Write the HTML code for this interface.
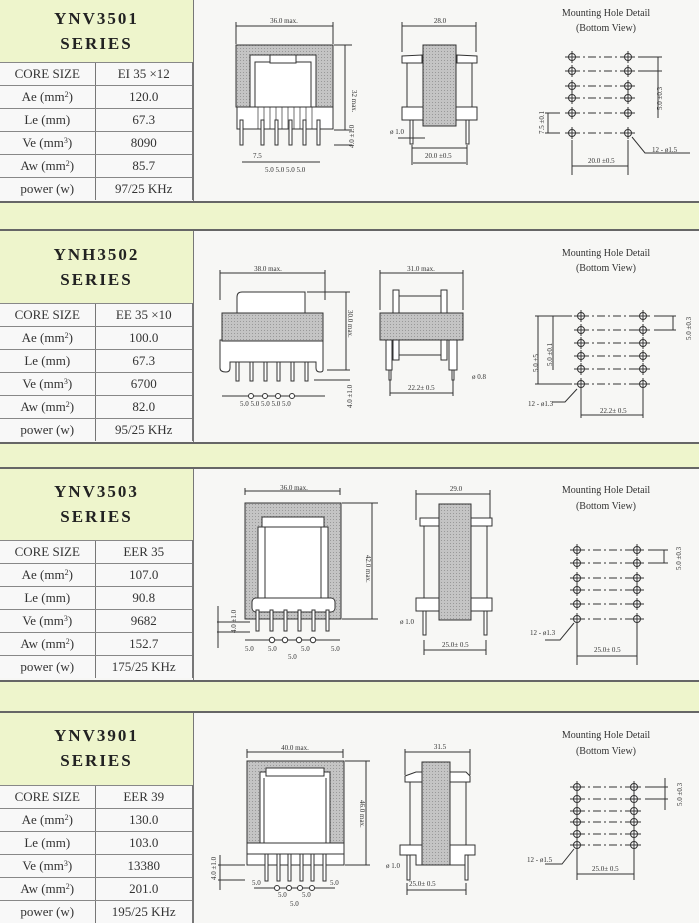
<!DOCTYPE html>
<html><head><meta charset="utf-8"><style>
*{margin:0;padding:0;box-sizing:border-box}
body{width:699px;height:923px;overflow:hidden;background:#f7f7f5;position:relative;font-family:"Liberation Serif",serif;color:#333}
.band{position:absolute;left:0;width:699px;background:#eef5cc;border-top:2px solid #666;border-bottom:2px solid #666}
.title{position:absolute;left:0;width:193px;background:#eef5cc;text-align:center;font-weight:bold;font-size:17px;letter-spacing:2px;color:#222;line-height:25px}
.tbl{position:absolute;left:0;width:193px;border-right:1px solid #777}
.row{height:23px;border-top:1px solid #888;display:flex;font-size:13px;line-height:22px;background:#f8f8f8}
.row div{text-align:center}
.row .a{width:96px;border-right:1px solid #777}
.row .b{width:97px}
.vl{position:absolute;left:193px;width:1px;background:#777}
svg{position:absolute;left:0;top:0}
sup{font-size:8px;vertical-align:4px;line-height:0}
</style></head><body>

<!-- bands -->
<div class="band" style="top:201px;height:30px"></div>
<div class="band" style="top:442px;height:27px"></div>
<div class="band" style="top:680px;height:33px"></div>

<div class="vl" style="top:0;height:201px"></div>
<div class="vl" style="top:231px;height:211px"></div>
<div class="vl" style="top:469px;height:211px"></div>
<div class="vl" style="top:713px;height:210px"></div>

<!-- S1 -->
<div class="title" style="top:0;height:62px;padding-top:6px">YNV3501<br>SERIES</div>
<div class="tbl" style="top:62px">
<div class="row"><div class="a">CORE SIZE</div><div class="b">EI 35 ×12</div></div>
<div class="row"><div class="a">Ae (mm<sup>2</sup>)</div><div class="b">120.0</div></div>
<div class="row"><div class="a">Le (mm)</div><div class="b">67.3</div></div>
<div class="row"><div class="a">Ve (mm<sup>3</sup>)</div><div class="b">8090</div></div>
<div class="row"><div class="a">Aw (mm<sup>2</sup>)</div><div class="b">85.7</div></div>
<div class="row"><div class="a">power (w)</div><div class="b">97/25 KHz</div></div>
</div>
<!-- S2 -->
<div class="title" style="top:231px;height:72px;padding-top:11px">YNH3502<br>SERIES</div>
<div class="tbl" style="top:303px">
<div class="row"><div class="a">CORE SIZE</div><div class="b">EE 35 ×10</div></div>
<div class="row"><div class="a">Ae (mm<sup>2</sup>)</div><div class="b">100.0</div></div>
<div class="row"><div class="a">Le (mm)</div><div class="b">67.3</div></div>
<div class="row"><div class="a">Ve (mm<sup>3</sup>)</div><div class="b">6700</div></div>
<div class="row"><div class="a">Aw (mm<sup>2</sup>)</div><div class="b">82.0</div></div>
<div class="row"><div class="a">power (w)</div><div class="b">95/25 KHz</div></div>
</div>
<!-- S3 -->
<div class="title" style="top:469px;height:71px;padding-top:10px">YNV3503<br>SERIES</div>
<div class="tbl" style="top:540px">
<div class="row"><div class="a">CORE SIZE</div><div class="b">EER 35</div></div>
<div class="row"><div class="a">Ae (mm<sup>2</sup>)</div><div class="b">107.0</div></div>
<div class="row"><div class="a">Le (mm)</div><div class="b">90.8</div></div>
<div class="row"><div class="a">Ve (mm<sup>3</sup>)</div><div class="b">9682</div></div>
<div class="row"><div class="a">Aw (mm<sup>2</sup>)</div><div class="b">152.7</div></div>
<div class="row"><div class="a">power (w)</div><div class="b">175/25 KHz</div></div>
</div>
<!-- S4 -->
<div class="title" style="top:713px;height:72px;padding-top:10px">YNV3901<br>SERIES</div>
<div class="tbl" style="top:785px">
<div class="row"><div class="a">CORE SIZE</div><div class="b">EER 39</div></div>
<div class="row"><div class="a">Ae (mm<sup>2</sup>)</div><div class="b">130.0</div></div>
<div class="row"><div class="a">Le (mm)</div><div class="b">103.0</div></div>
<div class="row"><div class="a">Ve (mm<sup>3</sup>)</div><div class="b">13380</div></div>
<div class="row"><div class="a">Aw (mm<sup>2</sup>)</div><div class="b">201.0</div></div>
<div class="row"><div class="a">power (w)</div><div class="b">195/25 KHz</div></div>
</div>

<svg width="699" height="923" viewBox="0 0 699 923" font-family="Liberation Serif, serif" fill="none" stroke="#333" stroke-width="1">
<defs>
<pattern id="h" width="3" height="3" patternUnits="userSpaceOnUse"><rect width="3" height="3" fill="#c4c4c4" stroke="none"/><rect width="1" height="1" fill="#999" stroke="none"/></pattern>
<g id="hole"><circle r="3.5" fill="#fff"/><line x1="-7" y1="0" x2="7" y2="0"/><line x1="0" y1="-6" x2="0" y2="6"/></g>
</defs>
<g font-size="7" fill="#333" stroke="none">
<!-- section 1 text -->
<text x="284" y="23" text-anchor="middle">36.0 max.</text>
<text x="440" y="23" text-anchor="middle">28.0</text>
<text x="606" y="16" text-anchor="middle" font-size="10">Mounting Hole Detail</text>
<text x="606" y="31" text-anchor="middle" font-size="10">(Bottom View)</text>
<text x="253" y="158">7.5</text>
<text x="265" y="172">5.0  5.0  5.0  5.0</text>
<text x="390" y="134">ø 1.0</text>
<text x="425" y="158">20.0 ±0.5</text>
<text x="588" y="163">20.0 ±0.5</text>
<text x="652" y="152">12 - ø1.5</text>
<text transform="translate(352,90) rotate(90)">32 max.</text>
<text transform="translate(354,148) rotate(-90)">4.0 ±1.0</text>
<text transform="translate(662,110) rotate(-90)">5.0 ±0.3</text>
<text transform="translate(544,134) rotate(-90)">7.5 ±0.1</text>
<!-- section 2 -->
<text x="268" y="271" text-anchor="middle">38.0 max.</text>
<text x="421" y="271" text-anchor="middle">31.0 max.</text>
<text x="606" y="256" text-anchor="middle" font-size="10">Mounting Hole Detail</text>
<text x="606" y="271" text-anchor="middle" font-size="10">(Bottom View)</text>
<text x="240" y="406">5.0  5.0  5.0  5.0  5.0</text>
<text x="408" y="390">22.2± 0.5</text>
<text x="472" y="379">ø 0.8</text>
<text x="528" y="406">12 - ø1.3</text>
<text x="600" y="413">22.2± 0.5</text>
<text transform="translate(348,310) rotate(90)">30.0 max.</text>
<text transform="translate(352,408) rotate(-90)">4.0 ±1.0</text>
<text transform="translate(691,340) rotate(-90)">5.0 ±0.3</text>
<text transform="translate(538,372) rotate(-90)">5.0 ±5</text>
<text transform="translate(552,366) rotate(-90)">5.0 ±0.1</text>
<!-- section 3 -->
<text x="294" y="490" text-anchor="middle">36.0 max.</text>
<text x="456" y="491" text-anchor="middle">29.0</text>
<text x="606" y="493" text-anchor="middle" font-size="10">Mounting Hole Detail</text>
<text x="606" y="509" text-anchor="middle" font-size="10">(Bottom View)</text>
<text x="245" y="651">5.0</text><text x="268" y="651">5.0</text><text x="301" y="651">5.0</text><text x="331" y="651">5.0</text><text x="288" y="659">5.0</text>
<text x="400" y="624">ø 1.0</text>
<text x="442" y="647">25.0± 0.5</text>
<text x="530" y="635">12 - ø1.3</text>
<text x="594" y="652">25.0± 0.5</text>
<text transform="translate(366,555) rotate(90)">42.0 max.</text>
<text transform="translate(236,633) rotate(-90)">4.0 ±1.0</text>
<text transform="translate(681,570) rotate(-90)">5.0 ±0.3</text>
<!-- section 4 -->
<text x="295" y="750" text-anchor="middle">40.0 max.</text>
<text x="440" y="749" text-anchor="middle">31.5</text>
<text x="606" y="738" text-anchor="middle" font-size="10">Mounting Hole Detail</text>
<text x="606" y="754" text-anchor="middle" font-size="10">(Bottom View)</text>
<text x="252" y="885">5.0</text><text x="330" y="885">5.0</text><text x="278" y="897">5.0</text><text x="302" y="897">5.0</text><text x="290" y="906">5.0</text>
<text x="386" y="868">ø 1.0</text>
<text x="409" y="886">25.0± 0.5</text>
<text x="527" y="862">12 - ø1.5</text>
<text x="592" y="871">25.0± 0.5</text>
<text transform="translate(360,800) rotate(90)">46.0 max.</text>
<text transform="translate(216,880) rotate(-90)">4.0 ±1.0</text>
<text transform="translate(682,806) rotate(-90)">5.0 ±0.3</text>
</g>

<!-- ===== Section 1 drawings ===== -->
<line x1="236" y1="26" x2="333" y2="26"/><line x1="236" y1="22" x2="236" y2="44"/><line x1="333" y1="22" x2="333" y2="44"/>
<rect x="236" y="45" width="97" height="62" fill="url(#h)"/>
<rect x="250" y="55" width="66" height="52" fill="#fafafa"/>
<rect x="255" y="62" width="56" height="45" fill="#fff"/>
<rect x="270" y="55" width="26" height="8" fill="#fff"/>
<rect x="237" y="107" width="96" height="22" fill="#fff"/>
<g stroke-width="0.7"><line x1="258" y1="107" x2="258" y2="129"/><line x1="264" y1="107" x2="264" y2="129"/><line x1="270" y1="107" x2="270" y2="129"/><line x1="276" y1="107" x2="276" y2="129"/><line x1="282" y1="107" x2="282" y2="129"/><line x1="288" y1="107" x2="288" y2="129"/><line x1="294" y1="107" x2="294" y2="129"/><line x1="300" y1="107" x2="300" y2="129"/><line x1="306" y1="107" x2="306" y2="129"/><line x1="312" y1="107" x2="312" y2="129"/></g>
<g fill="#fff"><rect x="240" y="120" width="3" height="25"/><rect x="261" y="120" width="3" height="25"/><rect x="275" y="120" width="3" height="25"/><rect x="289" y="120" width="3" height="25"/><rect x="303" y="120" width="3" height="25"/><rect x="317" y="120" width="3" height="25"/></g>
<line x1="242" y1="162" x2="320" y2="162"/>
<line x1="334" y1="45" x2="352" y2="45"/><line x1="334" y1="130" x2="352" y2="130"/><line x1="345" y1="45" x2="345" y2="130"/>
<line x1="334" y1="145" x2="352" y2="145"/>
<!-- side -->
<line x1="402" y1="26" x2="476" y2="26"/><line x1="402" y1="22" x2="402" y2="52"/><line x1="476" y1="22" x2="476" y2="52"/>
<path d="M402 56 L422 55 L422 63 L402 63 Z M457 55 L477 56 L477 63 L457 63 Z" fill="#fff"/>
<line x1="407" y1="63" x2="407" y2="107"/><line x1="472" y1="63" x2="472" y2="107"/>
<rect x="402" y="107" width="75" height="13" fill="#fff"/>
<rect x="423" y="45" width="33" height="81" fill="url(#h)"/>
<rect x="410" y="120" width="3" height="24" fill="#fff"/><rect x="466" y="120" width="3" height="24" fill="#fff"/>
<line x1="412" y1="148" x2="467" y2="148"/><line x1="412" y1="145" x2="412" y2="165"/><line x1="467" y1="145" x2="467" y2="165"/><line x1="413" y1="163" x2="466" y2="163"/>
<line x1="398" y1="138" x2="425" y2="138"/>
<!-- mounting 1 -->
<g stroke-dasharray="8 3 2 3"><line x1="572" y1="57" x2="628" y2="57"/><line x1="572" y1="71" x2="628" y2="71"/><line x1="572" y1="86" x2="628" y2="86"/><line x1="572" y1="98" x2="628" y2="98"/><line x1="572" y1="113" x2="628" y2="113"/><line x1="572" y1="133" x2="628" y2="133"/></g>
<use href="#hole" x="572" y="57"/><use href="#hole" x="628" y="57"/><use href="#hole" x="572" y="71"/><use href="#hole" x="628" y="71"/><use href="#hole" x="572" y="86"/><use href="#hole" x="628" y="86"/><use href="#hole" x="572" y="98"/><use href="#hole" x="628" y="98"/><use href="#hole" x="572" y="113"/><use href="#hole" x="628" y="113"/><use href="#hole" x="572" y="133"/><use href="#hole" x="628" y="133"/>
<line x1="638" y1="57" x2="662" y2="57"/><line x1="638" y1="71" x2="662" y2="71"/><line x1="658" y1="57" x2="658" y2="118"/>
<line x1="545" y1="113" x2="560" y2="113"/><line x1="545" y1="133" x2="560" y2="133"/><line x1="548" y1="113" x2="548" y2="133"/>
<line x1="572" y1="140" x2="572" y2="175"/><line x1="628" y1="140" x2="628" y2="175"/><line x1="572" y1="166" x2="628" y2="166"/>
<path d="M632 137 L645 153 L690 153"/>

<!-- ===== Section 2 drawings ===== -->
<line x1="220" y1="273" x2="325" y2="273"/><line x1="220" y1="270" x2="220" y2="300"/><line x1="325" y1="270" x2="325" y2="300"/>
<path d="M237 313 L237 297 Q237 292 242 292 L305 292 L305 313" fill="#fff"/>
<path d="M220 340 L323 340 L323 370 Q323 372 320 372 Q316 372 316 368 L316 362 L230 362 L230 368 Q230 372 226 372 Q220 372 220 368 Z" fill="#fff"/>
<rect x="222" y="313" width="101" height="28" fill="url(#h)"/>
<g fill="#fff"><rect x="236" y="362" width="3" height="19"/><rect x="250" y="362" width="3" height="19"/><rect x="264" y="362" width="3" height="19"/><rect x="277" y="362" width="3" height="19"/><rect x="291" y="362" width="3" height="19"/><rect x="305" y="362" width="3" height="19"/></g>
<line x1="222" y1="396" x2="325" y2="396"/>
<g fill="#fff"><circle cx="251" cy="396" r="2.5"/><circle cx="265" cy="396" r="2.5"/><circle cx="278" cy="396" r="2.5"/><circle cx="292" cy="396" r="2.5"/></g>
<line x1="307" y1="292" x2="350" y2="292"/><line x1="327" y1="370" x2="350" y2="370"/><line x1="346" y1="292" x2="346" y2="370"/>
<line x1="314" y1="380" x2="350" y2="380"/>
<!-- side 2 -->
<line x1="380" y1="273" x2="463" y2="273"/><line x1="380" y1="270" x2="380" y2="310"/><line x1="463" y1="270" x2="463" y2="310"/>
<rect x="393" y="290" width="6" height="70" fill="#fff"/><rect x="441" y="290" width="6" height="70" fill="#fff"/>
<line x1="399" y1="296" x2="441" y2="296"/><line x1="399" y1="355" x2="441" y2="355"/>
<rect x="380" y="313" width="83" height="27" fill="url(#h)"/>
<rect x="386" y="340" width="6" height="30" fill="#fff"/><rect x="449" y="340" width="8" height="30" fill="#fff"/>
<rect x="389" y="370" width="2" height="10" fill="#fff"/><rect x="452" y="370" width="2" height="10" fill="#fff"/>
<line x1="390" y1="380" x2="390" y2="396"/><line x1="453" y1="380" x2="453" y2="396"/><line x1="390" y1="393" x2="453" y2="393"/>
<!-- mounting 2 -->
<g stroke-dasharray="8 3 2 3"><line x1="581" y1="316" x2="643" y2="316"/><line x1="581" y1="330" x2="643" y2="330"/><line x1="581" y1="343" x2="643" y2="343"/><line x1="581" y1="356" x2="643" y2="356"/><line x1="581" y1="369" x2="643" y2="369"/><line x1="581" y1="384" x2="643" y2="384"/></g>
<use href="#hole" x="581" y="316"/><use href="#hole" x="643" y="316"/><use href="#hole" x="581" y="330"/><use href="#hole" x="643" y="330"/><use href="#hole" x="581" y="343"/><use href="#hole" x="643" y="343"/><use href="#hole" x="581" y="356"/><use href="#hole" x="643" y="356"/><use href="#hole" x="581" y="369"/><use href="#hole" x="643" y="369"/><use href="#hole" x="581" y="384"/><use href="#hole" x="643" y="384"/>
<line x1="654" y1="316" x2="676" y2="316"/><line x1="654" y1="330" x2="676" y2="330"/><line x1="673" y1="316" x2="673" y2="330"/>
<line x1="535" y1="316" x2="572" y2="316"/><line x1="535" y1="384" x2="572" y2="384"/><line x1="538" y1="316" x2="538" y2="384"/>
<line x1="553" y1="316" x2="553" y2="330"/><line x1="553" y1="316" x2="553" y2="370"/>
<line x1="581" y1="390" x2="581" y2="418"/><line x1="643" y1="390" x2="643" y2="418"/><line x1="581" y1="415" x2="643" y2="415"/>
<path d="M577 389 L565 402 L552 402"/>

<!-- ===== Section 3 drawings ===== -->
<line x1="245" y1="491" x2="340" y2="491"/><line x1="245" y1="488" x2="245" y2="495"/><line x1="340" y1="488" x2="340" y2="495"/>
<rect x="245" y="503" width="96" height="116" fill="url(#h)"/>
<rect x="258" y="527" width="70" height="80" fill="#fff"/>
<rect x="262" y="517" width="62" height="10" fill="#fff"/>
<line x1="265" y1="527" x2="265" y2="600"/><line x1="321" y1="527" x2="321" y2="600"/>
<rect x="252" y="598" width="83" height="14" rx="4" fill="#fff"/>
<g fill="#fff"><rect x="256" y="610" width="3" height="21"/><rect x="270" y="610" width="3" height="21"/><rect x="284" y="610" width="3" height="21"/><rect x="298" y="610" width="3" height="21"/><rect x="312" y="610" width="3" height="21"/><rect x="326" y="610" width="3" height="21"/></g>
<line x1="245" y1="640" x2="340" y2="640"/>
<g fill="#fff"><circle cx="272" cy="640" r="2.7"/><circle cx="285" cy="640" r="2.7"/><circle cx="299" cy="640" r="2.7"/><circle cx="313" cy="640" r="2.7"/></g>
<line x1="342" y1="503" x2="378" y2="503"/><line x1="342" y1="619" x2="378" y2="619"/><line x1="372" y1="503" x2="372" y2="619"/>
<line x1="217" y1="622" x2="250" y2="622"/><line x1="217" y1="632" x2="250" y2="632"/><line x1="218" y1="606" x2="218" y2="648"/>
<!-- side 3 -->
<line x1="416" y1="494" x2="490" y2="494"/><line x1="416" y1="490" x2="416" y2="520"/><line x1="490" y1="490" x2="490" y2="520"/>
<rect x="420" y="518" width="72" height="8" fill="#fff"/>
<line x1="424" y1="526" x2="424" y2="598"/><line x1="487" y1="526" x2="487" y2="598"/>
<rect x="416" y="598" width="76" height="13" fill="#fff"/>
<rect x="439" y="504" width="32" height="116" fill="url(#h)"/>
<rect x="423" y="611" width="3" height="24" fill="#fff"/><rect x="484" y="611" width="3" height="24" fill="#fff"/>
<line x1="424" y1="640" x2="424" y2="655"/><line x1="486" y1="640" x2="486" y2="655"/><line x1="424" y1="650" x2="486" y2="650"/>
<!-- mounting 3 -->
<g stroke-dasharray="8 3 2 3"><line x1="577" y1="550" x2="637" y2="550"/><line x1="577" y1="563" x2="637" y2="563"/><line x1="577" y1="578" x2="637" y2="578"/><line x1="577" y1="590" x2="637" y2="590"/><line x1="577" y1="604" x2="637" y2="604"/><line x1="577" y1="619" x2="637" y2="619"/></g>
<use href="#hole" x="577" y="550"/><use href="#hole" x="637" y="550"/><use href="#hole" x="577" y="563"/><use href="#hole" x="637" y="563"/><use href="#hole" x="577" y="578"/><use href="#hole" x="637" y="578"/><use href="#hole" x="577" y="590"/><use href="#hole" x="637" y="590"/><use href="#hole" x="577" y="604"/><use href="#hole" x="637" y="604"/><use href="#hole" x="577" y="619"/><use href="#hole" x="637" y="619"/>
<line x1="648" y1="550" x2="668" y2="550"/><line x1="648" y1="563" x2="668" y2="563"/><line x1="664" y1="550" x2="664" y2="563"/>
<line x1="577" y1="625" x2="577" y2="665"/><line x1="637" y1="625" x2="637" y2="665"/><line x1="577" y1="656" x2="637" y2="656"/>
<path d="M574 623 L560 640 L545 640"/>

<!-- ===== Section 4 drawings ===== -->
<line x1="247" y1="752" x2="343" y2="752"/><line x1="247" y1="749" x2="247" y2="758"/><line x1="343" y1="749" x2="343" y2="758"/>
<rect x="247" y="761" width="97" height="82" fill="url(#h)"/>
<rect x="260" y="772" width="70" height="71" fill="#fff"/>
<rect x="266" y="768" width="58" height="8" fill="#fff"/>
<line x1="264" y1="778" x2="264" y2="843"/><line x1="326" y1="778" x2="326" y2="843"/>
<rect x="247" y="843" width="97" height="22" fill="#fff"/>
<line x1="247" y1="854" x2="344" y2="854"/>
<g fill="#fff"><rect x="265" y="854" width="3" height="27"/><rect x="277" y="854" width="3" height="27"/><rect x="288" y="854" width="3" height="27"/><rect x="300" y="854" width="3" height="27"/><rect x="311" y="854" width="3" height="27"/><rect x="323" y="854" width="3" height="27"/></g>
<line x1="254" y1="888" x2="335" y2="888"/>
<g fill="#fff"><circle cx="277" cy="888" r="2.5"/><circle cx="289" cy="888" r="2.5"/><circle cx="300" cy="888" r="2.5"/><circle cx="312" cy="888" r="2.5"/></g>
<line x1="345" y1="761" x2="370" y2="761"/><line x1="345" y1="865" x2="370" y2="865"/><line x1="366" y1="761" x2="366" y2="865"/>
<line x1="218" y1="865" x2="245" y2="865"/><line x1="218" y1="880" x2="245" y2="880"/><line x1="220" y1="855" x2="220" y2="890"/>
<!-- side 4 -->
<line x1="405" y1="752" x2="470" y2="752"/><line x1="405" y1="749" x2="405" y2="775"/><line x1="470" y1="749" x2="470" y2="775"/>
<path d="M405 776 L416 772 L422 772 L422 782 L405 782 Z M450 772 L466 772 L470 776 L470 782 L450 782 Z" fill="#fff"/>
<line x1="410" y1="782" x2="410" y2="845"/><line x1="466" y1="782" x2="466" y2="845"/>
<path d="M400 845 L475 845 L475 855 L466 855 L466 865 L450 865 L450 855 L422 855 L422 865 L416 865 L416 855 L400 855 Z" fill="#fff"/>
<rect x="422" y="762" width="28" height="103" fill="url(#h)"/>
<rect x="407" y="855" width="3" height="25" fill="#fff"/><rect x="465" y="855" width="3" height="25" fill="#fff"/>
<line x1="407" y1="883" x2="407" y2="895"/><line x1="466" y1="883" x2="466" y2="895"/><line x1="407" y1="890" x2="466" y2="890"/>
<!-- mounting 4 -->
<g stroke-dasharray="8 3 2 3"><line x1="577" y1="787" x2="634" y2="787"/><line x1="577" y1="799" x2="634" y2="799"/><line x1="577" y1="811" x2="634" y2="811"/><line x1="577" y1="822" x2="634" y2="822"/><line x1="577" y1="834" x2="634" y2="834"/><line x1="577" y1="845" x2="634" y2="845"/></g>
<use href="#hole" x="577" y="787"/><use href="#hole" x="634" y="787"/><use href="#hole" x="577" y="799"/><use href="#hole" x="634" y="799"/><use href="#hole" x="577" y="811"/><use href="#hole" x="634" y="811"/><use href="#hole" x="577" y="822"/><use href="#hole" x="634" y="822"/><use href="#hole" x="577" y="834"/><use href="#hole" x="634" y="834"/><use href="#hole" x="577" y="845"/><use href="#hole" x="634" y="845"/>
<line x1="645" y1="787" x2="668" y2="787"/><line x1="645" y1="799" x2="668" y2="799"/><line x1="665" y1="778" x2="665" y2="810"/>
<line x1="577" y1="851" x2="577" y2="880"/><line x1="634" y1="851" x2="634" y2="880"/><line x1="577" y1="874" x2="634" y2="874"/>
<path d="M574 849 L562 864 L545 864"/>
</svg>
</body></html>
